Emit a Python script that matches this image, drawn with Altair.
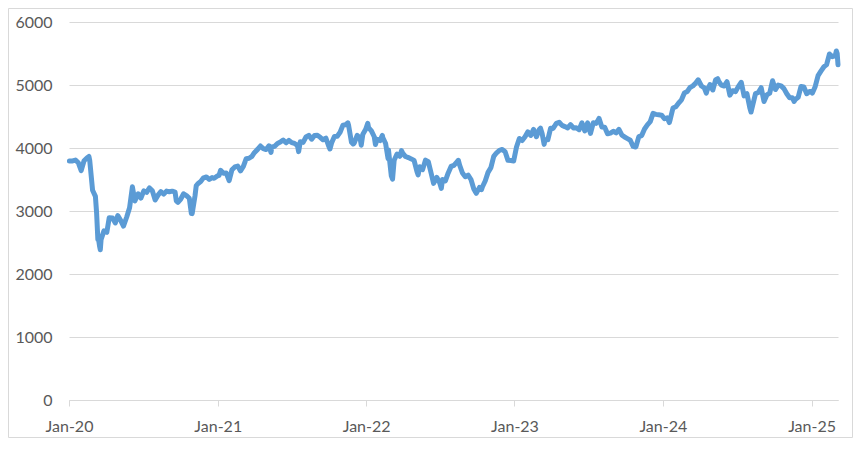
import altair as alt
import pandas as pd

# ---- data (approximate daily/weekly closes) ----
dates_2020 = ["01-02","01-10","01-17","01-24","01-31","02-07","02-14","02-19","02-21","02-28",
              "03-06","03-09","03-12","03-13","03-16","03-18","03-20","03-27","04-03","04-09",
              "04-17","04-24","04-30","05-08","05-14","05-22","05-29","06-05","06-11","06-19",
              "06-26","07-03","07-10","07-17","07-24","07-31","08-07","08-14","08-21","08-28",
              "09-04","09-11","09-18","09-21","09-25","10-02","10-09","10-16","10-23","10-28",
              "10-30","11-06","11-09","11-13","11-20","11-27","12-04","12-11","12-18","12-23","12-30"]
close_2020 = [3795,3795,3808,3765,3640,3798,3841,3865,3800,3330,
              3232,2960,2545,2586,2450,2385,2549,2685,2662,2893,
              2888,2810,2928,2840,2760,2905,3050,3384,3160,3272,
              3206,3320,3296,3366,3320,3174,3252,3306,3267,3316,
              3305,3315,3300,3160,3137,3190,3273,3245,3202,2960,
              2958,3240,3400,3433,3468,3527,3540,3500,3530,3520,3553]

dates_2021 = ["01-04","01-08","01-15","01-22","01-29","02-05","02-12","02-19","02-26","03-05",
              "03-12","03-19","03-26","04-01","04-09","04-16","04-23","04-30","05-07","05-12",
              "05-14","05-21","05-28","06-04","06-11","06-18","06-25","07-02","07-09","07-16",
              "07-19","07-23","07-30","08-06","08-13","08-20","08-27","09-03","09-10","09-17",
              "09-24","09-30","10-04","10-08","10-15","10-22","10-29","11-05","11-12","11-17",
              "11-19","11-26","11-30","12-03","12-10","12-17","12-20","12-24","12-31"]
close_2021 = [3564,3645,3600,3602,3481,3655,3700,3713,3636,3707,
              3830,3837,3867,3926,3978,4032,3990,3975,4034,3930,
              4017,4026,4072,4094,4127,4083,4122,4085,4072,4041,
              3942,4098,4089,4175,4201,4140,4199,4202,4170,4130,
              4158,4048,3984,4079,4183,4188,4250,4363,4370,4400,
              4356,4090,4064,4080,4200,4161,4045,4219,4298]

dates_2022 = ["01-05","01-07","01-14","01-21","01-24","01-28","02-04","02-10","02-11","02-18",
              "02-24","02-25","03-04","03-07","03-11","03-18","03-25","03-29","04-01","04-08",
              "04-15","04-22","04-29","05-06","05-09","05-13","05-20","05-27","06-03","06-10",
              "06-16","06-24","07-01","07-05","07-08","07-15","07-22","07-29","08-05","08-12",
              "08-16","08-19","08-26","09-02","09-09","09-16","09-23","09-29","10-07","10-12",
              "10-14","10-21","10-28","11-04","11-11","11-18","11-25","12-02","12-09","12-16",
              "12-23","12-30"]
close_2022 = [4392,4324,4272,4178,4054,4137,4118,4200,4166,4071,
              3830,3970,3556,3505,3806,3904,3868,3959,3918,3865,
              3848,3827,3803,3630,3574,3703,3657,3808,3783,3599,
              3438,3533,3448,3360,3500,3477,3604,3708,3725,3776,
              3805,3730,3603,3544,3570,3500,3349,3280,3375,3340,
              3381,3477,3613,3688,3868,3924,3962,3977,3942,3804,
              3800,3794]

dates_2023 = ["01-06","01-13","01-20","01-27","02-03","02-10","02-17","02-24","03-03","03-06",
              "03-10","03-15","03-17","03-24","03-31","04-06","04-14","04-21","04-28","05-05",
              "05-12","05-19","05-26","06-02","06-09","06-16","06-23","06-30","07-07","07-14",
              "07-21","07-28","08-04","08-11","08-18","08-25","09-01","09-08","09-15","09-22",
              "09-29","10-06","10-13","10-20","10-26","10-27","11-03","11-10","11-17","11-24",
              "12-01","12-08","12-15","12-22","12-29"]
close_2023 = [4017,4151,4119,4178,4257,4199,4295,4179,4295,4315,
              4229,4057,4131,4130,4315,4310,4391,4408,4359,4340,
              4318,4371,4319,4323,4290,4400,4271,4399,4232,4401,
              4391,4470,4334,4329,4226,4237,4265,4240,4295,4208,
              4174,4149,4124,4025,4015,4024,4181,4197,4302,4367,
              4418,4549,4534,4527,4521]

dates_2024 = ["01-05","01-12","01-17","01-19","01-26","02-02","02-09","02-16","02-23","03-01",
              "03-08","03-15","03-22","03-28","04-05","04-12","04-17","04-19","04-26","05-03",
              "05-10","05-15","05-17","05-24","05-31","06-07","06-14","06-21","06-28","07-05",
              "07-12","07-19","07-26","08-02","08-05","08-09","08-16","08-23","08-30","09-06",
              "09-13","09-20","09-27","10-04","10-11","10-18","10-25","11-01","11-08","11-15",
              "11-19","11-22","11-29","12-06","12-13","12-20","12-27","12-31"]
close_2024 = [4464,4480,4404,4449,4635,4655,4715,4765,4873,4895,
              4961,4986,5031,5083,4984,4955,4870,4918,5007,4921,
              5085,5100,5064,4999,4984,5052,4839,4910,4894,4979,
              5043,4827,4862,4638,4571,4675,4864,4881,4958,4739,
              4843,4871,5067,4928,4998,4986,4942,4860,4797,4796,
              4740,4771,4804,4977,4968,4862,4898,4896]

dates_2025 = ["01-03","01-10","01-17","01-24","01-31","02-07","02-14","02-21","02-28",
              "03-03","03-05","03-07"]
close_2025 = [4871,4977,5148,5220,5286,5325,5493,5450,5464,
              5540,5500,5320]

y_ticks = [0, 1000, 2000, 3000, 4000, 5000, 6000]
x_tick_years = [2020, 2021, 2022, 2023, 2024, 2025]

rows = []
for year, ds, vs in [(2020, dates_2020, close_2020), (2021, dates_2021, close_2021),
                     (2022, dates_2022, close_2022), (2023, dates_2023, close_2023),
                     (2024, dates_2024, close_2024), (2025, dates_2025, close_2025)]:
    for d, v in zip(ds, vs):
        rows.append({"date": f"{year}-{d}", "value": v})
df = pd.DataFrame(rows)

FONT = "Lato"
LABEL = "#595959"
GRID = "#d9d9d9"

line = alt.Chart(df).mark_line(
    color="#5b9bd5", strokeWidth=5, strokeJoin="round", strokeCap="round"
).encode(
    x=alt.X(
        "date:T",
        scale=alt.Scale(
            domain=[alt.DateTime(year=2020, month=1, date=1),
                    alt.DateTime(year=2025, month=3, date=7)],
            nice=False,
        ),
        axis=alt.Axis(
            values=[alt.DateTime(year=y, month=1, date=1) for y in x_tick_years],
            format="%b-%y", title=None, grid=False,
            domainColor=GRID, tickColor=GRID, tickSize=6, labelPadding=12,
            labelFont=FONT, labelFontSize=16, labelColor=LABEL,
            labelFlush=False, labelOverlap=False,
        ),
    ),
    y=alt.Y(
        "value:Q",
        scale=alt.Scale(domain=[0, 6000], nice=False),
        axis=alt.Axis(
            values=y_ticks, format="d", title=None, domain=False, ticks=False, tickSize=0,
            gridColor=GRID, labelPadding=17,
            labelFont=FONT, labelFontSize=16, labelColor=LABEL,
        ),
    ),
)

border = alt.Chart(pd.DataFrame({"k": [0]})).mark_rect(
    fillOpacity=0, stroke=GRID, strokeWidth=1
).encode(
    x=alt.value(-60.5), x2=alt.value(783.5),
    y=alt.value(-13.5), y2=alt.value(415.5),
)

chart = alt.layer(border, line).properties(
    width=769, height=378,
    autosize=alt.AutoSizeParams(type="none"),
    padding={"left": 61, "top": 14, "right": 15, "bottom": 38},
    background="white",
).configure_view(stroke=None)

chart.save("out.html", embed_options={"renderer": "svg", "actions": False})
